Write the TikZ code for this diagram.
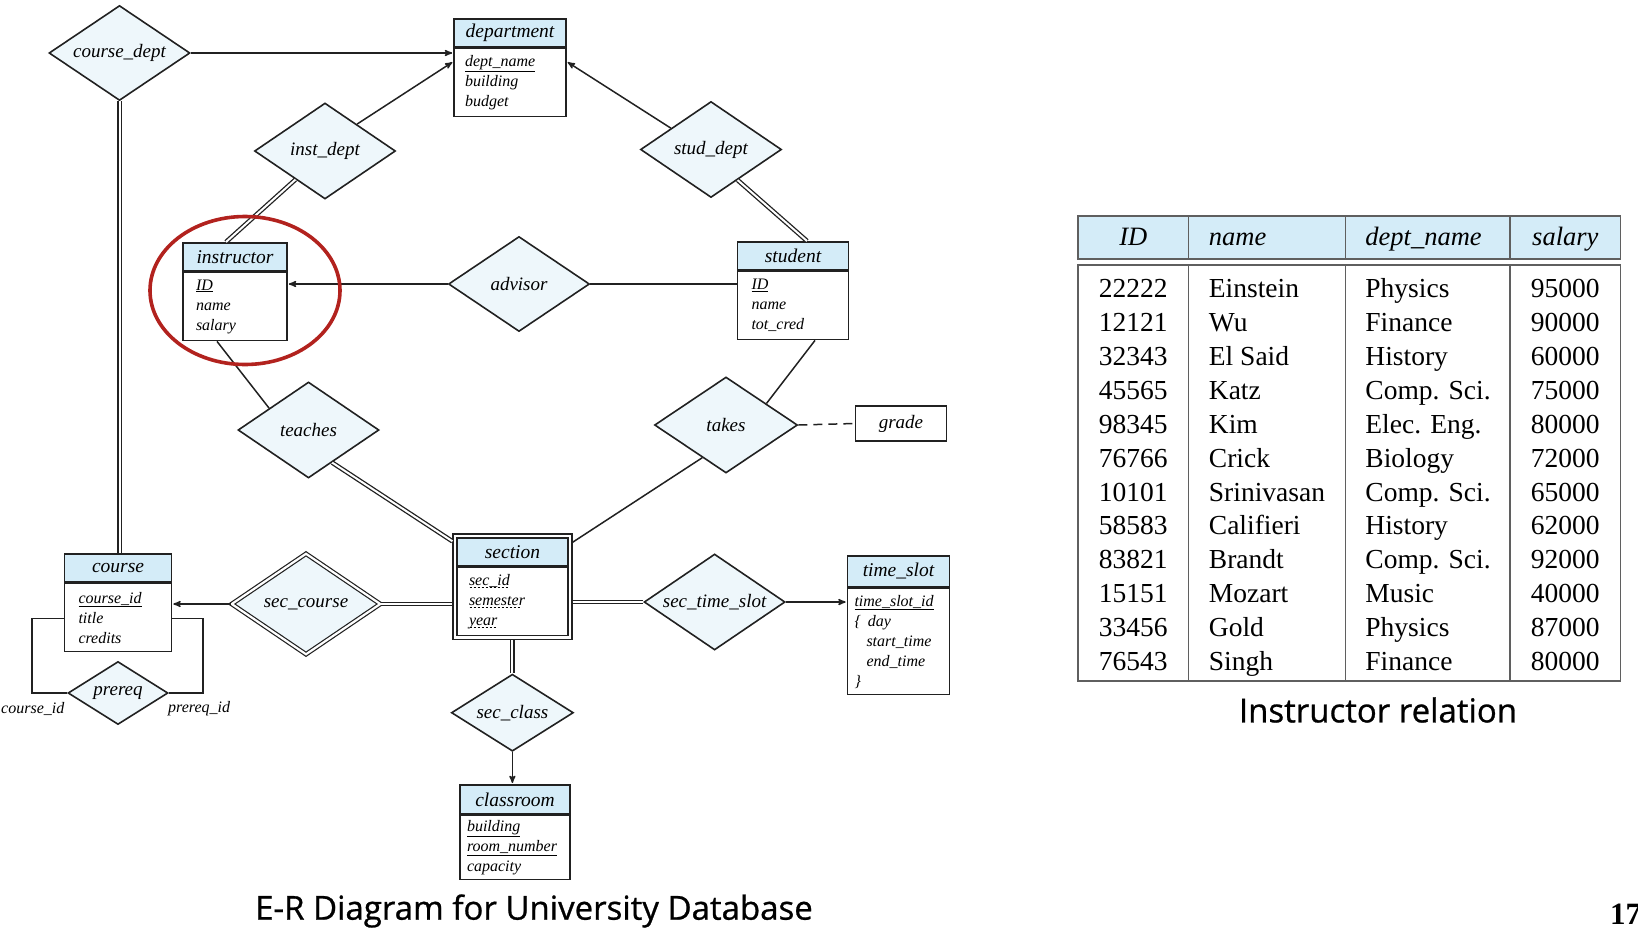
\documentclass[tikz,border=0pt]{standalone}
\usepackage{fontspec}
\setmainfont{Liberation Serif}
\newfontfamily\captfont[FakeBold=0.8]{Open Sans}
\usetikzlibrary{arrows,positioning,fit,shapes.geometric}
\definecolor{headblue}{RGB}{212,236,248}
\definecolor{relblue}{RGB}{238,247,251}
\definecolor{tabline}{RGB}{95,95,95}
\definecolor{circred}{RGB}{178,34,30}
% dashed underline for partial keys
\newcommand\dashul[1]{\leavevmode\setbox0\hbox{#1}\rlap{\hbox to\wd0{\leaders\hbox to 4pt{\hss\vrule height -1.6pt depth 2.4pt width 2.6pt\hss}\hfill}}\box0}
\tikzset{
    %Define standard arrow tip
    >=stealth',
    %Define style for entity headers
    enthead/.style={
           rectangle,
           draw=black!87, line width=1.7pt,
           fill=headblue,
           anchor=north,
           minimum height=28pt,
           inner sep=0pt,
           font=\fontsize{19.5}{22}\selectfont\itshape},
    %Define style for attribute boxes
    entbody/.style={
           rectangle,
           draw=black!87, line width=1.7pt,
           minimum height=68pt,
           inner xsep=11pt, inner ysep=0pt,
           align=left,
           font=\fontsize{16}{20}\selectfont\itshape},
    %Define style for relationship diamonds
    rel/.style={
           diamond,
           aspect=1.47,
           draw=black!87, line width=1.6pt,
           fill=relblue,
           inner sep=0pt,
           minimum width=141pt,
           minimum height=96pt,
           font=\fontsize{19}{22}\selectfont\itshape},
    % Define connector styles
    link/.style={draw=black!87, line width=1.5pt},
    total/.style={draw=black!87, double, line width=1.3pt, double distance=2pt},
    pil/.style={->, draw=black!87, line width=1.5pt, shorten >=1pt},
    role/.style={font=\fontsize{16}{18}\selectfont\itshape, inner sep=0pt},
    %Define styles for the relation table
    tabrule/.style={draw=tabline, line width=1.3pt},
    tabhead/.style={font=\fontsize{26.5}{28}\selectfont\itshape, inner sep=0pt},
    tabcell/.style={font=\fontsize{27.5}{28}\selectfont, inner sep=0pt},
    capt/.style={font=\captfont\fontsize{33}{36}\selectfont, inner sep=0pt}
}
\begin{document}
\begin{tikzpicture}[x=1pt,y=-1pt]
    \useasboundingbox (0,0) rectangle (1638,940);
    \node (depthead) [enthead, minimum width=112pt] at (510,18) {department};
    \node (deptbody) [entbody, text width=90pt, below=0pt of depthead]
          {\underline{dept\_name}\\building\\budget};
    \node (insthead) [enthead, minimum width=104pt] at (235,242) {instructor};
    \node (instbody) [entbody, inner xsep=13pt, text width=78pt, below=0pt of insthead]
          {\underline{ID}\\name\\salary};
    \node (studhead) [enthead, minimum width=111pt] at (793,241) {student};
    \node (studbody) [entbody, inner xsep=14pt, text width=83pt, below=0pt of studhead]
          {\underline{ID}\\name\\tot\_cred};
    \node (coursehead) [enthead, minimum width=107pt] at (118,553) {course};
    \node (coursebody) [entbody, inner xsep=14pt, text width=79pt, below=0pt of coursehead]
          {\underline{course\_id}\\title\\credits};
    \node (sechead) [enthead, minimum width=111pt] at (512.5,537) {section};
    \node (secbody) [entbody, inner xsep=12pt, text width=87pt, below=0pt of sechead]
          {\dashul{sec\_id}\\\dashul{semester}\\\dashul{year}};
    \node (secbox) [draw=black!87, line width=1.4pt, inner sep=3pt,
          fit=(sechead) (secbody)] {};
    \node (timehead) [enthead, minimum width=102pt, minimum height=31pt] at (898.5,555)
          {time\_slot};
    \node (timebody) [entbody, minimum height=106pt, inner xsep=7pt, text width=88pt,
          below=0pt of timehead]
          {\underline{time\_slot\_id}\\\{\hspace{7pt}day\\\hspace*{12pt}start\_time\\
           \hspace*{12pt}end\_time\\\}};
    \node (roomhead) [enthead, minimum width=110pt, minimum height=29pt] at (515,784)
          {classroom};
    \node (roombody) [entbody, minimum height=64pt, inner xsep=7pt, text width=96pt,
          below=0pt of roomhead]
          {\underline{building}\\\underline{room\_number}\\capacity};
    \node (grade) [rectangle, draw=black!87, line width=1.7pt, minimum width=91pt,
          minimum height=35pt, font=\fontsize{19}{22}\selectfont\itshape] at (901,423.5)
          {grade};
    \node (cdept) [rel, minimum height=95pt] at (119.5,53) {course\_dept};
    \node (idept) [rel] at (325,151) {inst\_dept};
    \node (sdept) [rel] at (711,149.5) {stud\_dept};
    \node (advisor) [rel, minimum height=95pt] at (519,284) {advisor};
    \node (teaches) [rel] at (308.5,430) {teaches};
    \node (takes) [rel, minimum width=143pt] at (726,425) {takes};
    \node (seccourse) [rel, double, line width=1.2pt, double distance=2.2pt,
          minimum width=149pt, minimum height=101pt] at (306,604) {sec\_course};
    \node (sectime) [rel] at (714.6,602) {sec\_time\_slot};
    \node (secclass) [rel, minimum width=122pt, minimum height=77pt] at (512.4,712.7)
          {sec\_class};
    \node (prereq) [rel, minimum width=100pt, minimum height=63pt] at (118,693) {prereq};
    \node (rolecid) [role, anchor=west] at (1,709) {course\_id};
    \node (rolepid) [role, anchor=west] at (168,709) {prereq\_id};
    \draw [pil] (cdept.east) -- (cdept.east -| deptbody.west);
    \draw [pil] (idept.40) -- ([yshift=-14pt]deptbody.north west);
    \draw [pil] (sdept.152) -- ([yshift=-14pt]deptbody.north east);
    \draw [total] (idept.224) -- ([xshift=-9pt]insthead.north);
    \draw [total] (sdept.-49) -- ([xshift=14pt]studhead.north);
    \draw [pil] (advisor.west) -- (advisor.west -| instbody.east);
    \draw [link] (advisor.east) -- (advisor.east -| studbody.west);
    \draw [link] (teaches.151) -- ([xshift=-18pt]instbody.south);
    \draw [total] (teaches.-54) -- ([yshift=-8pt]secbox.north west);
    \draw [link] (takes.28) -- ([xshift=22pt]studbody.south);
    \draw [link] (takes.234) -- ([yshift=-9pt]secbox.north east);
    \draw [link, dash pattern=on 9pt off 6pt] (takes.east) -- (grade.west);
    \draw [total] (cdept.south) -- (cdept.south |- coursehead.north);
    \draw [pil] (seccourse.west) -- (seccourse.west -| coursebody.east);
    \draw [total] (seccourse.east) -- (seccourse.east -| secbox.west);
    \draw [total] (sectime.west -| secbox.east) -- (sectime.west);
    \draw [pil] (sectime.east) -- (sectime.east -| timebody.west);
    \draw [total] (secbox.south -| secclass.north) -- (secclass.north);
    \draw [pil] (secclass.south) -- (secclass.south |- roomhead.north);
    \draw [link] (prereq.west) -- ++(-35,0) |- ([yshift=-36pt]coursebody.north west);
    \draw [link] (prereq.east) -- ++(34,0) |- ([yshift=-36pt]coursebody.north east);
    \draw [circred, line width=3.6pt] (245,290.5) ellipse [x radius=95pt, y radius=74pt];
    \fill [headblue] (1078,216) rectangle (1620.5,259);
    \draw [tabrule] (1078,216) rectangle (1620.5,259);
    \draw [tabrule] (1078,265) rectangle (1620.5,681);
    \foreach \x in {1188.5,1345.3,1510.1} {
        \draw [tabrule] (\x,216) -- (\x,259);
        \draw [tabrule] (\x,265) -- (\x,681);
    }
    \node (hid) [tabhead, anchor=base] at (1133.3,245.7) {ID};
    \node (hname) [tabhead, anchor=base west] at (1208.7,245.7) {name};
    \node (hdept) [tabhead, anchor=base west] at (1365.2,245.7) {dept\_name};
    \node (hsal) [tabhead, anchor=base] at (1565.3,245.7) {salary};
    \foreach \id/\nm/\dpt/\sal [count=\i] in {22222/Einstein/Physics/95000,
        12121/Wu/Finance/90000, 32343/El Said/History/60000,
        45565/Katz/Comp. Sci./75000, 98345/Kim/Elec. Eng./80000,
        76766/Crick/Biology/72000, 10101/Srinivasan/Comp. Sci./65000,
        58583/Califieri/History/62000, 83821/Brandt/Comp. Sci./92000,
        15151/Mozart/Music/40000, 33456/Gold/Physics/87000,
        76543/Singh/Finance/80000} {
        \node (id\i) [tabcell, anchor=base] at (1133.3,263.35+33.95*\i) {\id};
        \node (nm\i) [tabcell, anchor=base west] at (1208.7,263.35+33.95*\i) {\nm};
        \node (dp\i) [tabcell, anchor=base west] at (1365.2,263.35+33.95*\i) {\dpt};
        \node (sl\i) [tabcell, anchor=base] at (1565.3,263.35+33.95*\i) {\sal};
    }
    \node (ercap) [capt] at (534,911) {E-R Diagram for University Database};
    \node (relcap) [capt] at (1378,710) {Instructor relation};
    \node (pageno) [anchor=west, inner sep=0pt, font=\fontsize{31}{31}\selectfont\bfseries]
          at (1610,914) {17};
\end{tikzpicture}
\end{document}
